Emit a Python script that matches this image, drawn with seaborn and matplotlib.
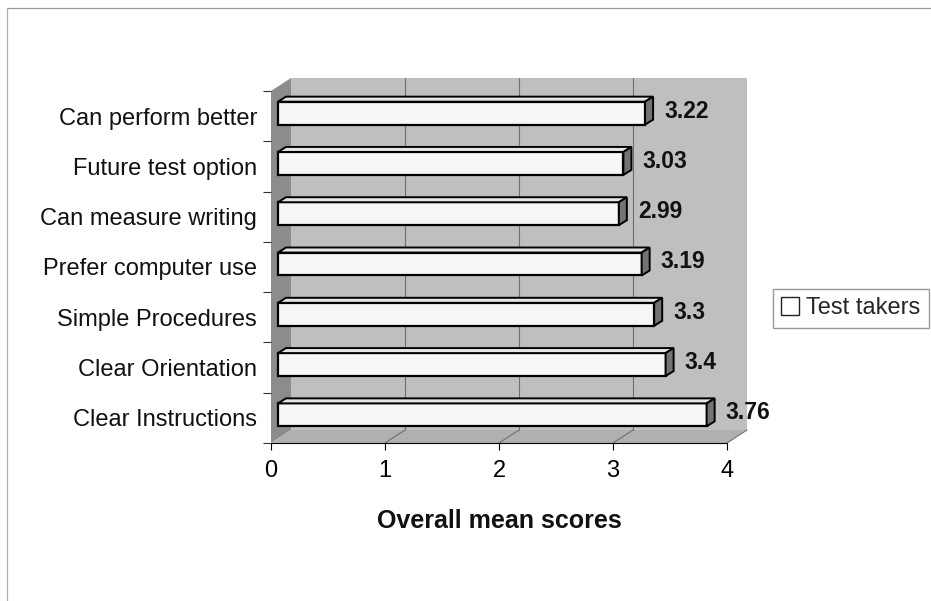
import matplotlib
matplotlib.use("Agg")
import matplotlib.pyplot as plt
import seaborn as sns
import pandas as pd
from matplotlib.patches import Polygon, Rectangle
from matplotlib.lines import Line2D

# ---- data ----
categories = ["Can perform better", "Future test option", "Can measure writing",
              "Prefer computer use", "Simple Procedures", "Clear Orientation",
              "Clear Instructions"]
scores = [3.22, 3.03, 2.99, 3.19, 3.3, 3.4, 3.76]
value_labels = ["3.22", "3.03", "2.99", "3.19", "3.3", "3.4", "3.76"]
x_ticks = [0, 1, 2, 3, 4]
series_name = "Test takers"
x_title = "Overall mean scores"

sns.set_theme(style="ticks")
plt.rcParams["font.family"] = ["Liberation Sans", "DejaVu Sans"]

W, H = 931, 601
fig = plt.figure(figsize=(W / 100, H / 100), dpi=100)
fig.patch.set_facecolor("white")
ax_l, ax_r, ax_t, ax_b = 271, 727, 91, 443
ax = fig.add_axes([ax_l / W, 1 - ax_b / H, (ax_r - ax_l) / W, (ax_b - ax_t) / H])
ax.set_facecolor("none")

df = pd.DataFrame({"category": categories, "score": scores})
sns.barplot(data=df, x="score", y="category", orient="h", ax=ax,
            color="#f7f7f7", saturation=1, edgecolor="black", linewidth=1.6,
            width=0.457, label=series_name, zorder=3)
bars = list(ax.patches)

ax.set_xlim(x_ticks[0], x_ticks[-1])
ax.set_ylim(len(categories) - 0.5, -0.5)

ux = (ax_r - ax_l) / (x_ticks[-1] - x_ticks[0])   # px per x unit
uy = (ax_b - ax_t) / len(categories)               # px per category

# wall depth (px, image coords: right, up)
ddx, ddy = 20 / ux, -13 / uy
y_top, y_bot = -0.5, len(categories) - 0.5
x0, x1 = x_ticks[0], x_ticks[-1]

wall_col, side_col, floor_col = "#bfbfbf", "#8c8c8c", "#b0b0b0"
ax.add_patch(Rectangle((x0 + ddx, y_top + ddy), x1 - x0, y_bot - y_top,
                       facecolor=wall_col, edgecolor="none", clip_on=False, zorder=0))
ax.add_patch(Polygon([(x0, y_top), (x0 + ddx, y_top + ddy), (x0 + ddx, y_bot + ddy), (x0, y_bot)],
                     closed=True, facecolor=side_col, edgecolor="none", clip_on=False, zorder=0.5))
ax.add_patch(Polygon([(x0, y_bot), (x1, y_bot), (x1 + ddx, y_bot + ddy), (x0 + ddx, y_bot + ddy)],
                     closed=True, facecolor=floor_col, edgecolor="none", clip_on=False, zorder=0.5))
for k in x_ticks[1:-1]:
    ax.plot([k + ddx, k + ddx], [y_top + ddy, y_bot + ddy], color="#6f6f6f", lw=0.8,
            clip_on=False, zorder=1)
for k in x_ticks[1:]:
    ax.plot([k, k + ddx], [y_bot, y_bot + ddy], color="#6f6f6f", lw=0.8,
            clip_on=False, zorder=1)

# 3D bars
shx, shy = 7 / ux, 3 / uy
bdx, bdy = 8 / ux, -5 / uy
for p, lab in zip(bars, value_labels):
    p.set_x(p.get_x() + shx)
    p.set_y(p.get_y() - shy)
    x, y, w, h = p.get_x(), p.get_y(), p.get_width(), p.get_height()
    ax.add_patch(Polygon([(x, y), (x + w, y), (x + w + bdx, y + bdy), (x + bdx, y + bdy)],
                         closed=True, facecolor="#e6e6e6", edgecolor="black", lw=1.4,
                         clip_on=False, zorder=3))
    ax.add_patch(Polygon([(x + w, y), (x + w, y + h), (x + w + bdx, y + h + bdy), (x + w + bdx, y + bdy)],
                         closed=True, facecolor="#737373", edgecolor="black", lw=1.4,
                         clip_on=False, zorder=3))
    ax.annotate(lab, xy=(x + w + bdx, y + h / 2 - 0.04), xytext=(8, 0),
                textcoords="offset points", ha="left", va="center",
                fontsize=16.5, fontweight="bold", color="#111111", zorder=5)

# axes styling
for s in ["top", "right", "left"]:
    ax.spines[s].set_visible(False)
ax.spines["bottom"].set_color("black")
ax.spines["bottom"].set_linewidth(0.8)
ax.spines["bottom"].set_zorder(4)
ax.set_xticks(x_ticks)
ax.set_xticklabels([str(t) for t in x_ticks])
ax.tick_params(axis="x", bottom=True, length=5, width=0.8, direction="out", pad=7,
               labelsize=17, colors="black")
ax.set_yticks([i - 0.5 for i in range(len(categories) + 1)], minor=True)
ax.tick_params(axis="y", which="major", left=True, length=0, pad=10, labelsize=17,
               labelcolor="#111111")
ax.tick_params(axis="y", which="minor", left=True, length=6, width=0.8, color="#333333")
ax.set_ylabel("")
ax.set_xlabel(x_title, fontsize=18, fontweight="bold", labelpad=20, color="#111111")
ax.grid(False)

# legend
ax.legend(handles=[Rectangle((0, 0), 1, 1, facecolor="white", edgecolor="#222222", lw=1.0)],
          labels=[series_name], loc="upper left", bbox_to_anchor=(773 / W, 1 - 289 / H),
          bbox_transform=fig.transFigure, borderaxespad=0, fontsize=17, frameon=True,
          fancybox=False, edgecolor="#808080", handlelength=0.75, handleheight=0.75,
          handletextpad=0.3, borderpad=0.35)

# outer chart frame (partially visible)
fig.add_artist(Line2D([7 / W, 1], [1 - 8 / H, 1 - 8 / H], transform=fig.transFigure,
                      color="#9a9a9a", lw=0.9))
fig.add_artist(Line2D([7 / W, 7 / W], [0, 1 - 8 / H], transform=fig.transFigure,
                      color="#b0b0b0", lw=0.9))

fig.savefig("out.png", dpi=100)
